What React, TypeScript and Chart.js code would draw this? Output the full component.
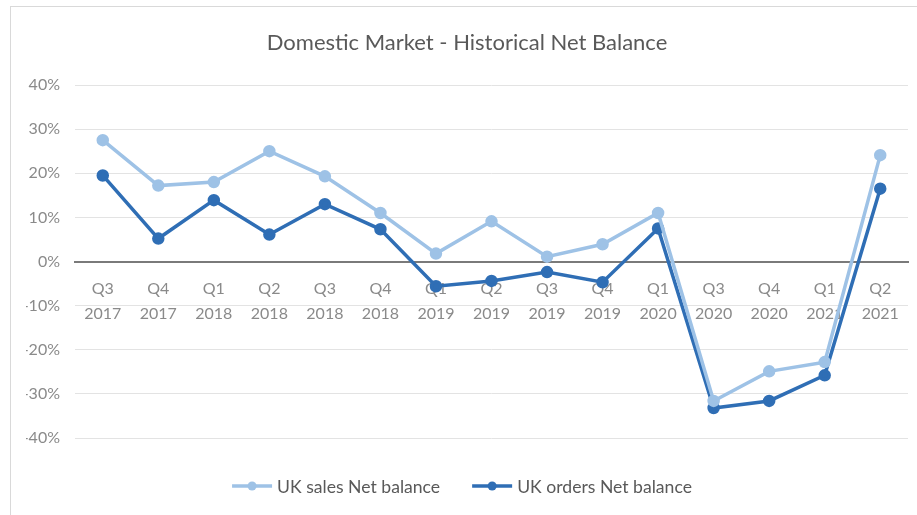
import React, { useEffect, useRef } from "react";
import { Chart, registerables } from "chart.js";

Chart.register(...registerables);

const quarters = ["Q3", "Q4", "Q1", "Q2", "Q3", "Q4", "Q1", "Q2", "Q3", "Q4", "Q1", "Q3", "Q4", "Q1", "Q2"];
const years = ["2017", "2017", "2018", "2018", "2018", "2018", "2019", "2019", "2019", "2019", "2020", "2020", "2020", "2021", "2021"];
const salesNet = [27.5, 17.2, 18.0, 25.0, 19.3, 11.0, 1.8, 9.1, 1.1, 3.9, 11.0, -31.6, -24.9, -22.8, 24.1];
const ordersNet = [19.5, 5.2, 13.9, 6.1, 13.0, 7.3, -5.6, -4.4, -2.4, -4.7, 7.5, -33.2, -31.6, -25.8, 16.5];
const yTicks = [-40, -30, -20, -10, 0, 10, 20, 30, 40];
const seriesNames = ["UK sales Net balance", "UK orders Net balance"];
const seriesColors = ["#9EC2E6", "#2F6EB5"];
const titleText = "Domestic Market - Historical Net Balance";

const FONT = "Lato, 'Open Sans', sans-serif";

const legendPlugin = {
  id: "excelLegend",
  afterDraw(chart: any) {
    const ctx = chart.ctx as CanvasRenderingContext2D;
    const ds = chart.data.datasets;
    ctx.save();
    ctx.font = `17.6px ${FONT}`;
    ctx.textBaseline = "middle";
    const symW = 40;
    const gapText = 5;
    const gapItem = 32;
    const widths = ds.map((d: any) => symW + gapText + ctx.measureText(d.label).width);
    const total = widths.reduce((a: number, b: number) => a + b, 0) + gapItem * (ds.length - 1);
    let x = 462 - total / 2;
    const y = 486;
    ds.forEach((d: any, i: number) => {
      ctx.strokeStyle = d.borderColor;
      ctx.lineWidth = d.borderWidth;
      ctx.beginPath();
      ctx.moveTo(x, y);
      ctx.lineTo(x + symW, y);
      ctx.stroke();
      ctx.fillStyle = d.pointBackgroundColor;
      ctx.beginPath();
      ctx.arc(x + symW / 2, y, 4.5, 0, Math.PI * 2);
      ctx.fill();
      ctx.fillStyle = "#595959";
      ctx.textAlign = "left";
      ctx.fillText(d.label, x + symW + gapText, y + 1);
      x += widths[i] + gapItem;
    });
    ctx.restore();
  },
};

export default function App() {
  const ref = useRef<HTMLCanvasElement | null>(null);
  useEffect(() => {
    if (!ref.current) return;
    const labels = quarters.map((q, i) => [q, years[i]]);
    const chart = new Chart(ref.current, {
      type: "line",
      data: {
        labels,
        datasets: [
          {
            label: seriesNames[0],
            data: salesNet,
            borderColor: seriesColors[0],
            backgroundColor: seriesColors[0],
            pointBackgroundColor: seriesColors[0],
            pointBorderColor: seriesColors[0],
            borderWidth: 3.5,
            pointRadius: 4.5,
            tension: 0,
          },
          {
            label: seriesNames[1],
            data: ordersNet,
            borderColor: seriesColors[1],
            backgroundColor: seriesColors[1],
            pointBackgroundColor: seriesColors[1],
            pointBorderColor: seriesColors[1],
            borderWidth: 3.5,
            pointRadius: 4.5,
            tension: 0,
          },
        ],
      },
      options: {
        responsive: false,
        animation: false,
        layout: { padding: { left: 26, right: 9, top: 0, bottom: 77 } },
        plugins: {
          legend: { display: false },
          tooltip: { enabled: false },
          title: {
            display: true,
            text: titleText,
            color: "#595959",
            font: { family: FONT, size: 22, weight: "normal", lineHeight: "24px" },
            padding: { top: 31, bottom: 30 },
          },
        },
        scales: {
          x: {
            type: "category",
            position: { y: 0 },
            offset: true,
            grid: { display: false, drawTicks: false },
            border: { display: true, color: "#7A7A7A", width: 2 },
            ticks: {
              color: "#8A8A8A",
              font: { family: FONT, size: 16, lineHeight: 1.55 },
              padding: 15,
              maxRotation: 0,
              autoSkip: false,
            },
          },
          y: {
            min: -40,
            max: 40,
            afterFit: (s: any) => {
              s.width = 49;
            },
            afterBuildTicks: (s: any) => {
              s.ticks = yTicks.map((v) => ({ value: v }));
            },
            grid: { color: "#E3E3E3", lineWidth: 1, drawTicks: false },
            border: { display: false },
            ticks: {
              color: "#8A8A8A",
              font: { family: FONT, size: 16 },
              padding: 15,
              callback: (v: any) => `${v}%`,
            },
          },
        },
      },
      plugins: [legendPlugin],
    });
    return () => chart.destroy();
  }, []);
  return (
    <div style={{ position: "absolute", left: 0, top: 0, width: 917, height: 515, overflow: "hidden", background: "#fff" }}>
      <div
        style={{
          position: "absolute",
          left: 10,
          top: 6,
          width: 1000,
          height: 600,
          border: "1px solid #D9D9D9",
        }}
      />
      <canvas ref={ref} width={917} height={515} style={{ position: "absolute", left: 0, top: 0 }} />
    </div>
  );
}
